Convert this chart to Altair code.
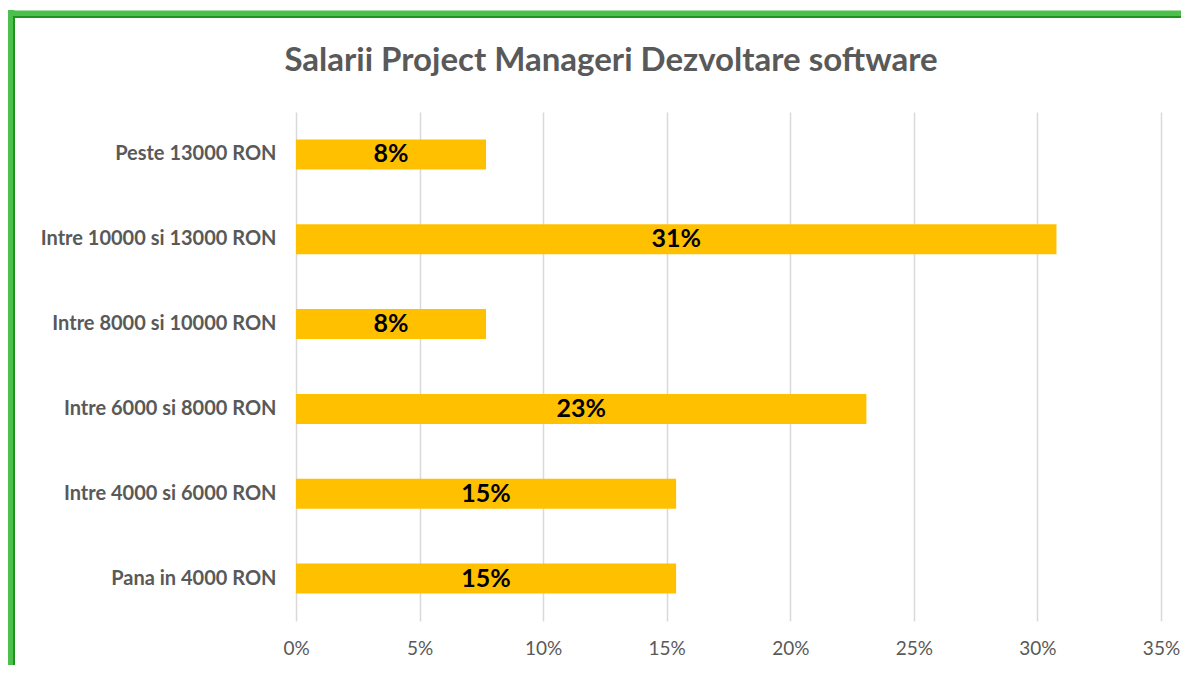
import altair as alt
import pandas as pd

categories = [
    "Peste 13000 RON",
    "Intre 10000 si 13000 RON",
    "Intre 8000 si 10000 RON",
    "Intre 6000 si 8000 RON",
    "Intre 4000 si 6000 RON",
    "Pana in 4000 RON",
]
values = [0.0769, 0.3077, 0.0769, 0.2308, 0.1538, 0.1538]
labels = ["8%", "31%", "8%", "23%", "15%", "15%"]
title_text = ["Salarii Project Manageri Dezvoltare software"]

df = pd.DataFrame({"cat": categories, "val": values, "lab": labels})
tdf = pd.DataFrame({"t": title_text})

FONT = "Lato"
W, H = 865, 509

x = alt.X(
    "val:Q",
    scale=alt.Scale(domain=[0, 0.35], nice=False),
    axis=alt.Axis(
        values=[0, 0.05, 0.10, 0.15, 0.20, 0.25, 0.30, 0.35],
        format=".0%",
        title=None,
        domain=False,
        ticks=False,
        grid=True,
        gridColor="#d9d9d9",
        gridWidth=1.5,
        labelFont=FONT,
        labelFontSize=19,
        labelColor="#595959",
        labelPadding=18,
        labelAlign="center",
        labelFlush=False,
    ),
)
y = alt.Y(
    "cat:N",
    sort=categories,
    scale=alt.Scale(paddingInner=0.646, paddingOuter=0.323),
    axis=alt.Axis(
        title=None,
        domain=False,
        ticks=False,
        grid=False,
        labelFont=FONT,
        labelFontSize=20,
        labelFontWeight="bold",
        labelColor="#595959",
        labelPadding=20,
        labelLimit=400,
    ),
)

bars = alt.Chart(df).mark_bar(color="#FFC000").encode(x=x, y=y)

text = alt.Chart(df).mark_text(
    font=FONT, fontSize=25, fontWeight="bold", color="#000000"
).encode(
    x=alt.X("mid:Q", scale=alt.Scale(domain=[0, 0.35], nice=False)),
    y=alt.Y("cat:N", sort=categories),
    text="lab:N",
).transform_calculate(mid="datum.val / 2")

title = alt.Chart(tdf).mark_text(
    font=FONT, fontSize=33, fontWeight="bold", color="#595959",
    align="center", baseline="middle",
).encode(x=alt.value(315), y=alt.value(-51), text="t:N")

border_left = alt.Chart(tdf).mark_rule(color="#4cbf4c", strokeWidth=7).encode(
    x=alt.value(-285), y=alt.value(-102), y2=alt.value(H + 80)
)
border_left_in = alt.Chart(tdf).mark_rule(color="#1e931e", strokeWidth=2).encode(
    x=alt.value(-282), y=alt.value(-96), y2=alt.value(H + 80)
)
border_top = alt.Chart(tdf).mark_rule(color="#4cbf4c", strokeWidth=7).encode(
    x=alt.value(-288), x2=alt.value(W + 50), y=alt.value(-98)
)
border_top_in = alt.Chart(tdf).mark_rule(color="#1e931e", strokeWidth=2).encode(
    x=alt.value(-283), x2=alt.value(W + 50), y=alt.value(-95)
)

chart = alt.layer(
    bars, text, title, border_left, border_top, border_left_in, border_top_in
).properties(
    width=W,
    height=H,
    autosize=alt.AutoSizeParams(type="none"),
    padding={"left": 288, "top": 104, "right": 20, "bottom": 44},
).configure(background="white").configure_view(stroke=None)

chart.save("out.html", embed_options={"renderer": "svg", "actions": False})
